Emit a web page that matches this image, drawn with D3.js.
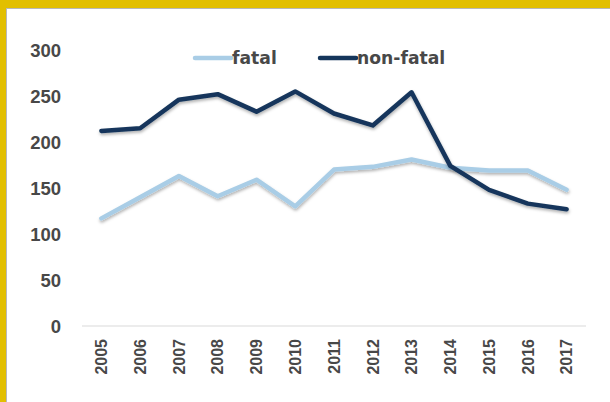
<!DOCTYPE html>
<html lang="en">
<head>
  <meta charset="UTF-8">
  <title>fatal / non-fatal</title>
  <style>
    body { margin: 0; background: #e2bf00; }
    svg { display: block; }
  </style>
</head>
<body>
  <svg></svg>
  <script src="https://cdn.jsdelivr.net/npm/d3@7"></script>
  <script>
    var years = ["2005","2006","2007","2008","2009","2010","2011","2012","2013","2014","2015","2016","2017"]
    var fatal = [117, 140, 163, 141, 159, 130, 170, 173, 181, 172, 169, 169, 148]
    var nonFatal = [212, 215, 246, 252, 233, 255, 231, 218, 254, 174, 148, 133, 127]
    var yTicks = [0, 50, 100, 150, 200, 250, 300]

    var width = 610
    var height = 402

    var svg = d3.select("svg")
      .attr("width", width)
      .attr("height", height)

    // white panel with the yellow frame showing on top and left
    svg.append("rect")
      .attr("x", 0).attr("y", 0)
      .attr("width", width).attr("height", height)
      .attr("fill", "#e2bf00")
    svg.append("rect")
      .attr("x", 6.5).attr("y", 8.5)
      .attr("width", width).attr("height", height)
      .attr("fill", "#fff")
      .attr("stroke", "#b8b8b8")

    var defs = svg.append("defs")
    var f = defs.append("filter").attr("id", "shadow")
      .attr("x", "-5%").attr("y", "-20%").attr("width", "110%").attr("height", "140%")
    f.append("feDropShadow")
      .attr("dx", 0.5).attr("dy", 2).attr("stdDeviation", 1.5)
      .attr("flood-color", "#000").attr("flood-opacity", 0.3)

    var x = d3.scaleBand()
      .domain(years)
      .range([82, 586])

    var y = d3.scaleLinear()
      .domain([0, 300])
      .range([326, 50])

    // baseline
    svg.append("line")
      .attr("x1", x.range()[0]).attr("x2", x.range()[1])
      .attr("y1", y(0)).attr("y2", y(0))
      .attr("stroke", "#d9d9d9")
      .attr("stroke-width", 1.2)

    // y labels
    svg.append("g")
      .selectAll("text")
      .data(yTicks)
      .join("text")
      .attr("x", 61)
      .attr("y", d => y(d))
      .attr("dy", "0.36em")
      .attr("text-anchor", "end")
      .attr("font-family", "Liberation Sans, Arial, sans-serif")
      .attr("font-weight", "bold")
      .attr("font-size", 18.5)
      .attr("fill", "#484848")
      .text(d => d)

    // x labels, rotated
    svg.append("g")
      .selectAll("text")
      .data(years)
      .join("text")
      .attr("transform", d => `translate(${x(d) + x.bandwidth() / 2}, 339) rotate(-90)`)
      .attr("dy", "0.36em")
      .attr("text-anchor", "end")
      .attr("font-family", "Liberation Sans, Arial, sans-serif")
      .attr("font-weight", "bold")
      .attr("font-size", 16)
      .attr("fill", "#484848")
      .text(d => d)

    var line = d3.line()
      .x((d, i) => x(years[i]) + x.bandwidth() / 2)
      .y(d => y(d))

    var series = [
      { name: "fatal", values: fatal, color: "#a9cde6", lx: 195 },
      { name: "non-fatal", values: nonFatal, color: "#15365b", lx: 320 }
    ]

    svg.selectAll("path.series")
      .data(series)
      .join("path")
      .attr("class", "series")
      .attr("d", d => line(d.values))
      .attr("fill", "none")
      .attr("stroke", d => d.color)
      .attr("stroke-width", 4.5)
      .attr("stroke-linejoin", "round")
      .attr("stroke-linecap", "round")
      .attr("filter", "url(#shadow)")

    // legend
    var lg = svg.append("g")
      .selectAll("g")
      .data(series)
      .join("g")
      .attr("transform", d => `translate(${d.lx}, 58)`)
    lg.append("line")
      .attr("x1", 0).attr("x2", 36)
      .attr("stroke", d => d.color)
      .attr("stroke-width", 4.5)
      .attr("stroke-linecap", "round")
    lg.append("text")
      .attr("x", 37)
      .attr("dy", "0.36em")
      .attr("font-family", "DejaVu Sans, sans-serif")
      .attr("font-weight", "bold")
      .attr("font-size", 17.2)
      .attr("fill", "#484848")
      .text(d => d.name)
  </script>
</body>
</html>
